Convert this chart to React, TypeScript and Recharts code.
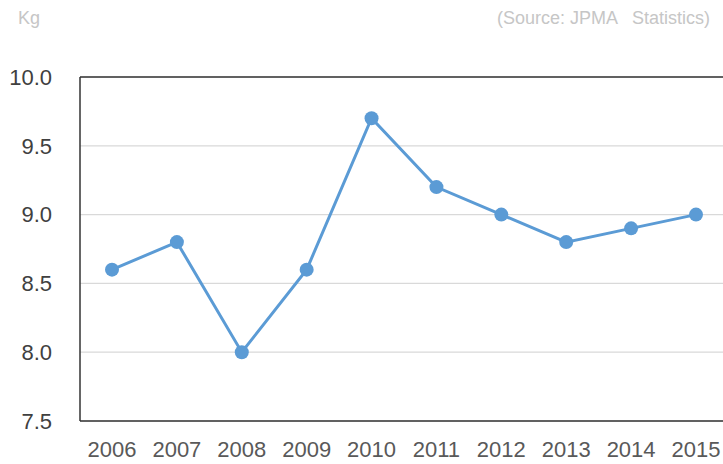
import { LineChart, Line, XAxis, YAxis, CartesianGrid, ReferenceLine } from "recharts";

const years = ["2006", "2007", "2008", "2009", "2010", "2011", "2012", "2013", "2014", "2015"];
const values = [8.6, 8.8, 8.0, 8.6, 9.7, 9.2, 9.0, 8.8, 8.9, 9.0];
const yTicks = [7.5, 8.0, 8.5, 9.0, 9.5, 10.0];

const data = years.map((year, i) => ({ year, value: values[i] }));

const FONT = "'Liberation Sans', Arial, sans-serif";

export default function App() {
  return (
    <div
      style={{
        position: "absolute",
        left: 0,
        top: 0,
        width: 723,
        height: 464,
        overflow: "hidden",
        background: "#fff",
        fontFamily: FONT,
      }}
    >
      {/* unit + source notes */}
      <div style={{ position: "absolute", left: 18, top: 8, fontSize: 18, color: "#c6c6c6" }}>Kg</div>
      <div
        style={{
          position: "absolute",
          right: 13,
          top: 8,
          fontSize: 18,
          color: "#c6c6c6",
          whiteSpace: "pre",
        }}
      >
        {"(Source: JPMA   Statistics)"}
      </div>

      <LineChart
        width={740}
        height={464}
        data={data}
        margin={{ top: 77, right: 11, bottom: 0, left: 0 }}
      >
        <CartesianGrid vertical={false} stroke="#d9d9d9" strokeWidth={1.2} />
        <XAxis
          dataKey="year"
          height={43}
          padding={{ left: 32, right: 33 }}
          tickLine={false}
          tickSize={0}
          tickMargin={20}
          axisLine={{ stroke: "#333", strokeWidth: 1.5 }}
          tick={{ fill: "#595959", fontSize: 22, fontFamily: FONT }}
          interval={0}
        />
        <YAxis
          width={80}
          domain={[7.5, 10]}
          ticks={yTicks}
          tickFormatter={(v: number) => v.toFixed(1)}
          tickLine={false}
          tickSize={0}
          tickMargin={28}
          axisLine={{ stroke: "#333", strokeWidth: 1.5 }}
          tick={{ fill: "#404040", fontSize: 22, fontFamily: FONT }}
        />
        <ReferenceLine y={10} stroke="#333" strokeWidth={1.5} />
        <Line
          type="linear"
          dataKey="value"
          stroke="#5b9bd5"
          strokeWidth={3}
          dot={{ r: 7, fill: "#5b9bd5", stroke: "#5b9bd5", strokeWidth: 0 }}
          activeDot={false}
          isAnimationActive={false}
        />
      </LineChart>
    </div>
  );
}
